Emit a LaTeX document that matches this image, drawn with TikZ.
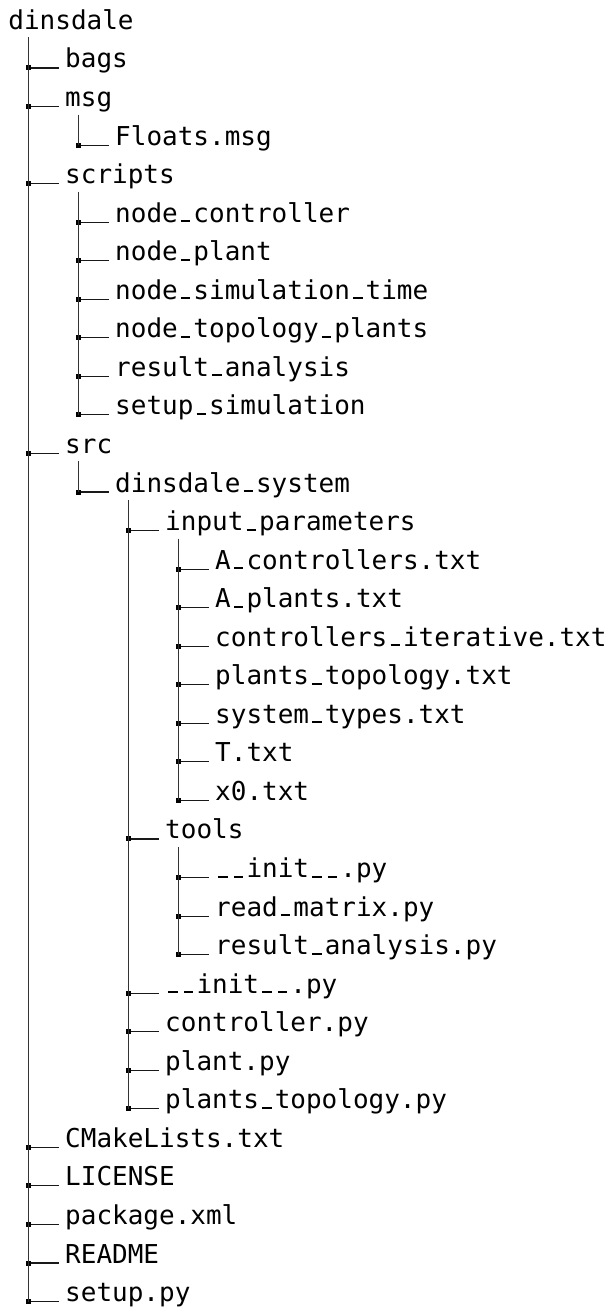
\documentclass[tikz,border=0pt]{standalone}
\usepackage{fontspec}
\setmonofont{DejaVu Sans Mono}
\newcommand\us{\makebox[0.60205em][c]{\rule{0.36em}{0.075em}}}
\begin{document}
\begin{tikzpicture}[x=0.5pt,y=-0.5pt,
  label/.style={anchor=base west,inner sep=0pt,font=\fontsize{13}{15}\selectfont\ttfamily},
  trunk/.style={line width=0.55pt,draw=black!80},
  branch/.style={line width=0.55pt,draw=black!90},
  junction/.style={fill=black,minimum size=2.5pt,inner sep=0pt,draw=none,rectangle}]
\useasboundingbox[fill=white] (0,0) rectangle (611,1307);
\newcommand\ent[4]{%
  \node[label] (#1) at ({28.3+50*(#3-1)+36.5},{29.4+38.55*#2}) {#4};
  \coordinate (#1-j) at ({28.3+50*(#3-1)},{29.4+38.55*#2});
  \coordinate (#1-h) at ({28.3+50*(#3-1)+31},{29.4+38.55*#2});
  \coordinate (#1-v) at ({28.3+50*#3},{29.4+38.55*#2+8});
  \draw[branch] (#1-j) -- (#1-h);
  \node[junction] (#1-sq) at (#1-j) {};
}
% root
\node[label] (root) at (8,29.4) {dinsdale};
\coordinate (root-v) at (28.3,37.4);
\ent{bags}{1}{1}{bags}
\ent{msg}{2}{1}{msg}
\ent{floats}{3}{2}{Floats.msg}
\ent{scripts}{4}{1}{scripts}
\ent{nctrl}{5}{2}{node\us controller}
\ent{nplant}{6}{2}{node\us plant}
\ent{nsim}{7}{2}{node\us simulation\us time}
\ent{ntopo}{8}{2}{node\us topology\us plants}
\ent{resan}{9}{2}{result\us analysis}
\ent{setsim}{10}{2}{setup\us simulation}
\ent{src}{11}{1}{src}
\ent{dsys}{12}{2}{dinsdale\us system}
\ent{inp}{13}{3}{input\us parameters}
\ent{actl}{14}{4}{A\us controllers.txt}
\ent{aplt}{15}{4}{A\us plants.txt}
\ent{citer}{16}{4}{controllers\us iterative.txt}
\ent{ptopo}{17}{4}{plants\us topology.txt}
\ent{stypes}{18}{4}{system\us types.txt}
\ent{tt}{19}{4}{T.txt}
\ent{xz}{20}{4}{x0.txt}
\ent{tools}{21}{3}{tools}
\ent{tinit}{22}{4}{\us\us init\us\us .py}
\ent{rmat}{23}{4}{read\us matrix.py}
\ent{rana}{24}{4}{result\us analysis.py}
\ent{dinit}{25}{3}{\us\us init\us\us .py}
\ent{ctrlpy}{26}{3}{controller.py}
\ent{plantpy}{27}{3}{plant.py}
\ent{ptopopy}{28}{3}{plants\us topology.py}
\ent{cmake}{29}{1}{CMakeLists.txt}
\ent{lic}{30}{1}{LICENSE}
\ent{pkg}{31}{1}{package.xml}
\ent{readme}{32}{1}{README}
\ent{setup}{33}{1}{setup.py}
% trunks
\draw[trunk] (root-v) -- (setup-j);
\draw[trunk] (msg-v) -- (floats-j);
\draw[trunk] (scripts-v) -- (setsim-j);
\draw[trunk] (src-v) -- (dsys-j);
\draw[trunk] (dsys-v) -- (ptopopy-j);
\draw[trunk] (inp-v) -- (xz-j);
\draw[trunk] (tools-v) -- (rana-j);
\end{tikzpicture}
\end{document}
